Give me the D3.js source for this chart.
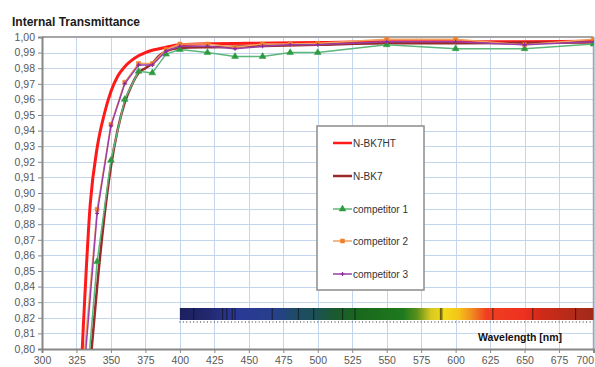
<!DOCTYPE html>
<html>
<head>
<meta charset="utf-8">
<script src="https://cdn.jsdelivr.net/npm/d3@7"></script>
<style>
  body { margin: 0; background: #fff; }
  svg { display: block; font-family: "Liberation Sans", Arial, sans-serif; }
</style>
</head>
<body>
<div id="chart"></div>
<script>
// wavelengths (nm) of the measured competitor points
const compWl = [330, 340, 350, 360, 370, 380, 390, 400, 420, 440, 460, 480, 500, 550, 600, 650, 700];
const comp1 = [0.753, 0.856, 0.921, 0.960, 0.978, 0.977, 0.989, 0.992, 0.990, 0.9875, 0.9875, 0.990, 0.990, 0.995, 0.9925, 0.9925, 0.9955];
const comp2 = [0.790, 0.8895, 0.944, 0.971, 0.983, 0.983, 0.992, 0.9955, 0.9955, 0.9935, 0.9955, 0.9955, 0.996, 0.9985, 0.9985, 0.995, 0.9985];
const comp3 = [0.780, 0.887, 0.943, 0.970, 0.982, 0.982, 0.991, 0.994, 0.994, 0.9925, 0.994, 0.995, 0.995, 0.997, 0.997, 0.995, 0.997];

// schott curves, denser sampling
const schottWl = [320, 325, 330, 335, 340, 345, 350, 355, 360, 365, 370, 375, 380, 385, 390, 400, 425, 450, 500, 550, 600, 650, 700];
const bk7ht = [0.62, 0.72, 0.815, 0.893, 0.929, 0.950, 0.965, 0.975, 0.981, 0.985, 0.988, 0.990, 0.9915, 0.9925, 0.9935, 0.995, 0.9957, 0.996, 0.9965, 0.997, 0.997, 0.997, 0.9972];
const bk7 = [0.60, 0.67, 0.73, 0.79, 0.84, 0.883, 0.917, 0.941, 0.958, 0.969, 0.977, 0.980, 0.983, 0.988, 0.991, 0.993, 0.9935, 0.994, 0.995, 0.996, 0.996, 0.9963, 0.9965];

const xTicks = d3.range(300, 701, 25);
const yTicks = d3.range(0.80, 1.0001, 0.01);

// colour bar: gradient stops and dark absorption lines
const specStops = [
  [400, "#1c2060"], [420, "#22286e"], [440, "#2a3896"], [470, "#26408a"],
  [482, "#1f4a6a"], [500, "#1a5252"], [512, "#1a5a30"], [530, "#1a681c"],
  [562, "#1e7a1e"], [572, "#5a901a"], [582, "#d8c820"], [592, "#f2da18"],
  [602, "#f5c418"], [612, "#f08a20"], [622, "#f04020"], [650, "#ee3020"],
  [662, "#d02a18"], [700, "#a02a1a"]
];
const specLines = [410, 431, 434, 438, 440, 467, 486, 497, 518, 527, 589, 590, 627, 656, 687];

const series = [
  { name: "N-BK7HT", wl: schottWl, v: bk7ht, color: "#ff1a1a", width: 3, curve: d3.curveMonotoneX },
  { name: "N-BK7", wl: schottWl, v: bk7, color: "#982a2a", width: 2.5, curve: d3.curveMonotoneX },
  { name: "competitor 1", wl: compWl, v: comp1, color: "#5cb77a", width: 1.5, marker: "triangle", mcolor: "#2e9a40", curve: d3.curveLinear },
  { name: "competitor 2", wl: compWl, v: comp2, color: "#f0a060", width: 1.5, marker: "square", mcolor: "#f07f28", curve: d3.curveLinear },
  { name: "competitor 3", wl: compWl, v: comp3, color: "#9b3ea8", width: 1.5, marker: "cross", mcolor: "#8a2a9a", curve: d3.curveLinear }
];

const W = 595, H = 367;
const x = d3.scaleLinear().domain([300, 700]).range([42, 593.5]);
const y = d3.scaleLinear().domain([0.80, 1.00]).range([349, 37]);

const svg = d3.select("#chart").append("svg").attr("width", W).attr("height", H);

const defs = svg.append("defs");
defs.append("clipPath").attr("id", "plotclip")
  .append("rect").attr("x", x(300)).attr("y", y(1.0)).attr("width", x(700) - x(300)).attr("height", y(0.8) - y(1.0));

const grad = defs.append("linearGradient").attr("id", "spec")
  .attr("gradientUnits", "userSpaceOnUse")
  .attr("x1", x(400)).attr("x2", x(700)).attr("y1", 0).attr("y2", 0);
grad.selectAll("stop").data(specStops).enter().append("stop")
  .attr("offset", d => (d[0] - 400) / 300)
  .attr("stop-color", d => d[1]);

// grid
svg.append("g").selectAll("line").data(yTicks).enter().append("line")
  .attr("x1", x(300)).attr("x2", x(700))
  .attr("y1", d => Math.round(y(d)) + 0.5).attr("y2", d => Math.round(y(d)) + 0.5)
  .attr("stroke", "#c3d6ee").attr("stroke-width", 1);
svg.append("g").selectAll("line").data(xTicks).enter().append("line")
  .attr("y1", y(1.0)).attr("y2", y(0.8))
  .attr("x1", d => Math.round(x(d)) + 0.5).attr("x2", d => Math.round(x(d)) + 0.5)
  .attr("stroke", "#c3d6ee").attr("stroke-width", 1);

// plot frame (top / right)
svg.append("line").attr("x1", x(300)).attr("x2", x(700)).attr("y1", y(1.0)).attr("y2", y(1.0))
  .attr("stroke", "#a6a6a6").attr("stroke-width", 2);
svg.append("line").attr("x1", x(700)).attr("x2", x(700)).attr("y1", y(1.0)).attr("y2", y(0.8))
  .attr("stroke", "#a6a6a6").attr("stroke-width", 1.5);

// spectrum bar
const barTop = 308, barH = 12;
svg.append("rect").attr("x", x(400)).attr("y", barTop).attr("width", x(700) - x(400)).attr("height", barH)
  .attr("fill", "url(#spec)");
svg.append("g").selectAll("line").data(specLines).enter().append("line")
  .attr("x1", d => x(d)).attr("x2", d => x(d)).attr("y1", barTop).attr("y2", barTop + barH)
  .attr("stroke", "#111").attr("stroke-opacity", 0.6).attr("stroke-width", 1.2);
svg.append("g").selectAll("line").data(d3.range(400, 700, 2.5)).enter().append("line")
  .attr("x1", d => x(d)).attr("x2", d => x(d)).attr("y1", barTop + barH + 1).attr("y2", barTop + barH + 3)
  .attr("stroke", "#777").attr("stroke-width", 0.8);
svg.append("text").attr("x", 520).attr("y", 341).attr("text-anchor", "middle")
  .attr("font-size", 10.5).attr("font-weight", "bold").attr("fill", "#111")
  .text("Wavelength [nm]");

// axes
const yAxis = svg.append("g").attr("transform", `translate(${x(300)},0)`)
  .call(d3.axisLeft(y).tickValues(yTicks).tickSize(4).tickPadding(3).tickFormat(d => d3.format(".2f")(d).replace(".", ",")));
const xAxis = svg.append("g").attr("transform", `translate(0,${y(0.8)})`)
  .call(d3.axisBottom(x).tickValues(xTicks).tickSize(4).tickPadding(4).tickFormat(d3.format("d")));
[yAxis, xAxis].forEach(a => {
  a.select(".domain").attr("stroke", "#878787").attr("stroke-width", 2);
  a.selectAll(".tick line").attr("stroke", "#878787");
  a.selectAll("text").attr("fill", "#595959").attr("font-size", 10.5)
    .attr("font-family", "'Liberation Sans', Arial, sans-serif");
});
// last x label sits at the edge of the page
xAxis.selectAll(".tick text").filter(d => d === 700).attr("text-anchor", "end").attr("dx", "0");

// series
const plot = svg.append("g").attr("clip-path", "url(#plotclip)");
function markerPath(kind) {
  if (kind === "triangle") return d3.symbol().type(d3.symbolTriangle).size(20)();
  if (kind === "square") return d3.symbol().type(d3.symbolSquare).size(16)();
  return "M-2,0H2M0,-2V2";
}
series.forEach(s => {
  const pts = s.wl.map((w, i) => [w, s.v[i]]);
  plot.append("path").datum(pts)
    .attr("fill", "none").attr("stroke", s.color).attr("stroke-width", s.width)
    .attr("stroke-linejoin", "round")
    .attr("d", d3.line().x(d => x(d[0])).y(d => y(d[1])).curve(s.curve));
  if (s.marker) {
    plot.append("g").selectAll("path").data(pts).enter().append("path")
      .attr("transform", d => `translate(${x(d[0])},${y(d[1])})`)
      .attr("d", markerPath(s.marker))
      .attr("fill", s.mcolor).attr("stroke", s.mcolor).attr("stroke-width", s.marker === "cross" ? 1.2 : 0.5);
  }
});

// legend
const lg = svg.append("g");
lg.append("rect").attr("x", 317).attr("y", 126).attr("width", 107).attr("height", 164)
  .attr("fill", "#fff").attr("stroke", "#8c8c8c").attr("stroke-width", 1.5);
const legY = [143, 176, 209, 241, 274];
series.forEach((s, i) => {
  const g = lg.append("g").attr("transform", `translate(0,${legY[i]})`);
  g.append("line").attr("x1", 333).attr("x2", 352).attr("y1", 0).attr("y2", 0)
    .attr("stroke", s.color).attr("stroke-width", Math.min(s.width, 2.5));
  if (s.marker) {
    g.append("path").attr("transform", "translate(342.5,0)").attr("d", markerPath(s.marker))
      .attr("fill", s.mcolor).attr("stroke", s.mcolor).attr("stroke-width", s.marker === "cross" ? 1.2 : 0.5);
  }
  g.append("text").attr("x", 353).attr("y", 3.5).attr("font-size", 10).attr("fill", "#333").text(s.name);
});

// title
svg.append("text").attr("x", 12).attr("y", 26).attr("font-size", 12).attr("font-weight", "bold")
  .attr("fill", "#1a1a1a").text("Internal Transmittance");
</script>
</body>
</html>
